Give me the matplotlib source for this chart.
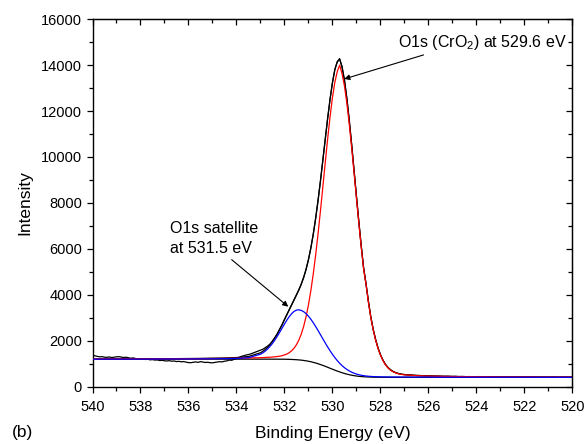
import numpy as np
import matplotlib
matplotlib.use("Agg")
import matplotlib.pyplot as plt
from matplotlib.ticker import MultipleLocator

plt.rcParams['font.family'] = ['Liberation Sans', 'DejaVu Sans']
plt.rcParams['mathtext.fontset'] = 'custom'
plt.rcParams['mathtext.rm'] = 'Liberation Sans'

# ---- energy grids (binding energy, eV) at which values were read ----
E_fit = np.concatenate([np.linspace(540.0, 533.5, 14),
                        np.linspace(533.0, 527.0, 61),
                        np.linspace(526.5, 520.0, 14)])
E_data = np.concatenate([np.linspace(540.0, 533.1, 70),
                         np.linspace(533.0, 527.0, 61),
                         np.linspace(526.9, 520.0, 70)])

# ---- Shirley background ----
background = [1195, 1196, 1196, 1197, 1197, 1198, 1198, 1199, 1199, 1200, 1200, 1200, 1200, 1200,
              1200, 1200, 1200, 1200, 1200, 1199, 1199, 1199, 1198, 1197, 1196, 1194, 1191, 1187, 1182,
              1176, 1167, 1157, 1144, 1128, 1109, 1087, 1061, 1033, 1001, 965, 928, 888, 847, 805,
              763, 722, 682, 645, 609, 577, 549, 523, 501, 482, 466, 453, 443, 434, 428, 423, 419,
              416, 414, 413, 412, 411, 411, 410, 410, 410, 410, 410, 410, 410, 410,
              410, 410, 409, 409, 409, 409, 408, 408, 408, 408, 407, 407, 407, 407]

# ---- O1s (CrO2) component, 529.6 eV ----
peak_cro2 = [1202, 1204, 1205, 1207, 1208, 1211, 1212, 1215, 1218, 1222, 1227, 1232, 1240, 1251,
             1264, 1269, 1274, 1279, 1285, 1293, 1301, 1313, 1329, 1351, 1382, 1424, 1483, 1564, 1675,
             1826, 2025, 2287, 2621, 3040, 3555, 4173, 4896, 5723, 6643, 7637, 8682, 9741, 10773,
             11733, 12573, 13245, 13707, 13995, 13634, 13100, 12359, 11451, 10427, 9335, 8220, 7125,
             6085, 5124, 4450, 3680, 3010, 2470, 2030, 1670, 1380, 1151, 971, 836, 737, 666, 614, 577,
             551, 531, 517,
             481, 463, 451, 443, 437, 432, 428, 425, 423, 421, 418, 417, 416, 415]

# ---- O1s satellite component, 531.5 eV ----
peak_sat = [1198, 1199, 1200, 1201, 1202, 1204, 1205, 1207, 1209, 1212, 1216, 1221, 1230, 1264,
            1413, 1474, 1550, 1643, 1754, 1883, 2030, 2192, 2366, 2545, 2725, 2896, 3051, 3180, 3277,
            3334, 3347, 3323, 3267, 3183, 3072, 2940, 2788, 2624, 2449, 2268, 2087, 1908, 1734, 1568,
            1413, 1270, 1139, 1023, 919, 830, 754, 688, 634, 589, 552, 523, 500, 481, 467, 456, 448,
            441, 437, 433, 431, 428, 427, 425, 424, 423, 423, 422, 422, 421, 421,
            419, 417, 415, 414, 413, 413, 411, 411, 411, 410, 409, 409, 409, 409]

# ---- fit envelope ----
envelope = [1205, 1207, 1209, 1211, 1213, 1217, 1219, 1223, 1228, 1234, 1243, 1253, 1270, 1315,
            1477, 1543, 1624, 1722, 1839, 1977, 2132, 2306, 2497, 2699, 2911, 3126, 3343, 3557, 3770,
            3984, 4205, 4453, 4744, 5095, 5518, 6026, 6623, 7314, 8091, 8940, 9841, 10761, 11660,
            12496, 13223, 13793, 14120, 14280, 13900, 13353, 12564, 11616, 10560, 9442, 8306, 7195,
            6142, 5171, 4489, 3713, 3039, 2495, 2053, 1690, 1399, 1168, 987, 851, 751, 679, 627, 589,
            563, 542, 528,
            490, 470, 457, 448, 441, 436, 431, 428, 426, 423, 420, 419, 418, 417]

# ---- measured spectrum ----
measured = [1370, 1345, 1320, 1300, 1310, 1285, 1280, 1295, 1270, 1285,
            1300, 1310, 1290, 1270, 1285, 1260, 1240, 1255, 1225, 1215,
            1195, 1205, 1185, 1195, 1170, 1180, 1160, 1165, 1140, 1150,
            1130, 1120, 1135, 1110, 1120, 1095, 1105, 1085, 1095, 1070,
            1050, 1045, 1065, 1080, 1060, 1090, 1075, 1055, 1065, 1045,
            1040, 1060, 1075, 1090, 1080, 1110, 1125, 1160, 1150, 1190,
            1230, 1270, 1320, 1345, 1380, 1400, 1430, 1470, 1510, 1550,
            1590, 1630, 1700, 1770, 1860, 1985, 2140, 2290, 2500, 2690,
            2930, 3140, 3360, 3570, 3790, 4000, 4220, 4470, 4760, 5110,
            5530, 6040, 6630, 7320, 8100, 8950, 9850, 10770, 11670, 12500,
            13230, 13800, 14150, 14260, 13950, 13360, 12570, 11620, 10570, 9450,
            8310, 7200, 6150, 5180, 4490, 3720, 3040, 2500, 2060, 1690,
            1400, 1170, 990, 850, 760, 680, 630, 590, 565, 540, 530,
            520, 512, 505, 500, 492, 490, 482, 478, 476, 470,
            468, 466, 460, 462, 458, 455, 452, 457, 450, 446,
            452, 445, 440, 447, 441, 436, 442, 438, 432, 437,
            442, 434, 428, 436, 432, 427, 433, 438, 430, 425,
            431, 426, 421, 429, 424, 430, 422, 418, 426, 421,
            416, 424, 428, 419, 415, 422, 417, 424, 418, 413,
            420, 425, 416, 412, 419, 414, 421, 416, 411, 418]

x_ticks = [540, 538, 536, 534, 532, 530, 528, 526, 524, 522, 520]
y_ticks = [0, 2000, 4000, 6000, 8000, 10000, 12000, 14000, 16000]

fig = plt.figure(figsize=(5.84, 4.44), dpi=100)
ax = fig.add_axes([0.1584, 0.129, 0.8216, 0.828])

lw = 0.9
ax.plot(E_data, measured, color='black', lw=lw, zorder=2)
ax.plot(E_fit, envelope, color='black', lw=lw, zorder=2)
ax.plot(E_fit, background, color='black', lw=lw, zorder=3)
ax.plot(E_fit, peak_cro2, color='#ff0000', lw=lw, zorder=4)
ax.plot(E_fit, peak_sat, color='#0000ff', lw=lw, zorder=5)

ax.set_xlim(540, 520)
ax.set_ylim(0, 16000)
ax.set_xticks(x_ticks)
ax.set_yticks(y_ticks)
ax.xaxis.set_minor_locator(MultipleLocator(1))
ax.yaxis.set_minor_locator(MultipleLocator(1000))
ax.tick_params(which='major', direction='out', length=4.5, width=0.9, labelsize=10.5)
ax.tick_params(axis='x', which='major', pad=5)
ax.tick_params(axis='y', which='major', pad=3)
ax.tick_params(which='minor', direction='out', length=2.8, width=0.9)
for s in ax.spines.values():
    s.set_linewidth(1.0)

secx = ax.secondary_xaxis('top')
secx.set_xticks(x_ticks)
secx.xaxis.set_minor_locator(MultipleLocator(1))
secx.tick_params(which='major', direction='in', length=4.5, width=0.9, labeltop=False)
secx.tick_params(which='minor', direction='in', length=2.8, width=0.9)
secy = ax.secondary_yaxis('right')
secy.set_yticks(y_ticks)
secy.yaxis.set_minor_locator(MultipleLocator(1000))
secy.tick_params(which='major', direction='in', length=4.5, width=0.9, labelright=False)
secy.tick_params(which='minor', direction='in', length=2.8, width=0.9)

ax.set_xlabel('Binding Energy (eV)', fontsize=12.5, labelpad=9)
ax.set_ylabel('Intensity', fontsize=12.5, labelpad=6)

ax.annotate('', xy=(529.51, 13393), xytext=(526.2, 14441),
            arrowprops=dict(arrowstyle='-|>', color='black', lw=0.8,
                            mutation_scale=8, shrinkA=0, shrinkB=0))
ax.text(527.26, 14802, 'O1s (CrO$_2$) at 529.6 eV', fontsize=11.5, ha='left', va='baseline')

ax.annotate('', xy=(531.84, 3483), xytext=(534.2, 5530),
            arrowprops=dict(arrowstyle='-|>', color='black', lw=0.8,
                            mutation_scale=8, shrinkA=0, shrinkB=0))
ax.text(536.77, 6692, 'O1s satellite', fontsize=11.5, ha='left', va='baseline')
ax.text(536.77, 5821, 'at 531.5 eV', fontsize=11.5, ha='left', va='baseline')

fig.text(0.02, 0.015, '(b)', fontsize=12.5, ha='left', va='baseline')

fig.savefig('out.png', dpi=100)
